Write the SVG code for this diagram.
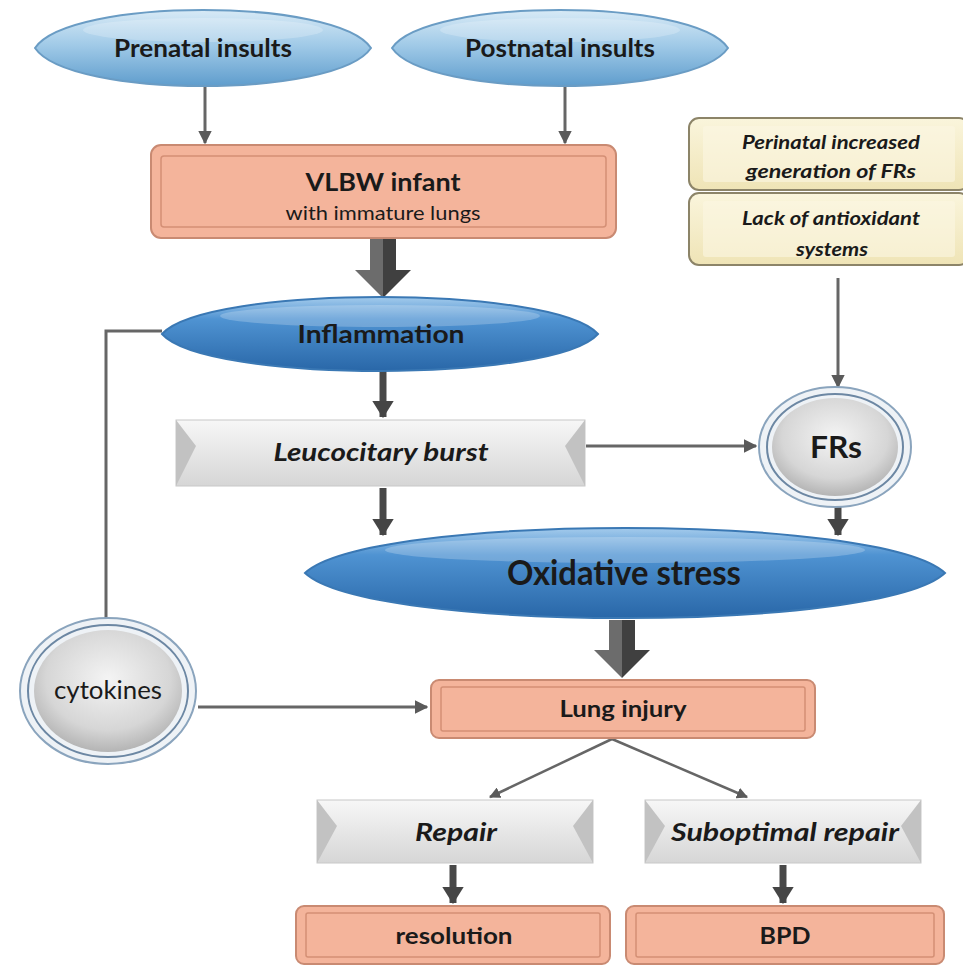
<svg xmlns="http://www.w3.org/2000/svg" width="963" height="965" viewBox="0 0 963 965">
<defs>
<linearGradient id="gLight" x1="0" y1="0" x2="0" y2="1">
<stop offset="0" stop-color="#d8eaf6"/><stop offset="0.45" stop-color="#a2cbe8"/><stop offset="1" stop-color="#5f9dcd"/>
</linearGradient>
<linearGradient id="gDark" x1="0" y1="0" x2="0" y2="1">
<stop offset="0" stop-color="#a4cbec"/><stop offset="0.3" stop-color="#4f93d2"/><stop offset="1" stop-color="#2967a8"/>
</linearGradient>
<linearGradient id="gGray" x1="0" y1="0" x2="0" y2="1">
<stop offset="0" stop-color="#f7f7f7"/><stop offset="1" stop-color="#d6d6d6"/>
</linearGradient>
<radialGradient id="gCirc" cx="0.5" cy="0.4" r="0.6">
<stop offset="0" stop-color="#f4f4f4"/><stop offset="0.7" stop-color="#d6d6d6"/><stop offset="1" stop-color="#b4b4b4"/>
</radialGradient>
<linearGradient id="gYel" x1="0" y1="0" x2="0" y2="1">
<stop offset="0" stop-color="#faf5dc"/><stop offset="1" stop-color="#efe4b6"/>
</linearGradient>
<linearGradient id="gArrow" x1="0" y1="0" x2="1" y2="0">
<stop offset="0" stop-color="#6c6c6c"/><stop offset="0.5" stop-color="#6c6c6c"/><stop offset="0.5" stop-color="#404040"/><stop offset="1" stop-color="#404040"/>
</linearGradient>
<marker id="ah" viewBox="0 0 10 10" refX="9" refY="5" markerWidth="4.5" markerHeight="4.5" orient="auto" markerUnits="strokeWidth">
<path d="M0,0 L10,5 L0,10 z" fill="#5a5a5a"/>
</marker>
<marker id="ahB" viewBox="0 0 8 10" refX="7.5" refY="5" markerWidth="2.5" markerHeight="3.1" orient="auto" markerUnits="strokeWidth">
<path d="M0,0 L8,5 L0,10 z" fill="#454545"/>
</marker>
</defs>
<style>
.t{font-family:Lato,"Open Sans","Liberation Sans",sans-serif;fill:#1a1a1a;text-anchor:middle}
.b{font-weight:bold}
.i{font-style:italic}
.ln{stroke:#666;stroke-width:3;fill:none}
.lnb{stroke:#484848;stroke-width:7;fill:none}
.thick{fill:url(#gArrow)}
.org{fill:#f4b49b;stroke:#c98a72;stroke-width:2}
.orgin{fill:none;stroke:#d48f75;stroke-width:1.5}
.bev{fill:url(#gGray);stroke:#c8c8c8;stroke-width:1}
.bevside{fill:#c2c2c2}
.yel{fill:url(#gYel);stroke:#8c8468;stroke-width:2}
.yelin{fill:#fbf7e2;opacity:0.6}
.hl{fill:#ffffff;opacity:0.22}
</style>

<rect width="963" height="965" fill="#ffffff"/>

<g id="connectors">
<line class="ln" x1="205" y1="86" x2="205" y2="143" marker-end="url(#ah)"/>
<line class="ln" x1="565" y1="86" x2="565" y2="143" marker-end="url(#ah)"/>
<path class="thick" d="M370,239 L396,239 L396,270 L411,270 L383,298 L355,270 L370,270 Z"/>
<polyline class="ln" points="162,331 106,331 106,620"/>
<line class="lnb" x1="383" y1="371" x2="383" y2="417" marker-end="url(#ahB)"/>
<line class="ln" x1="586" y1="446" x2="756" y2="446" marker-end="url(#ah)"/>
<line class="ln" x1="838" y1="278" x2="838" y2="387" marker-end="url(#ah)"/>
<line class="lnb" x1="383" y1="488" x2="383" y2="535" marker-end="url(#ahB)"/>
<line class="lnb" x1="838" y1="507" x2="838" y2="535" marker-end="url(#ahB)"/>
<path class="thick" d="M609,620 L635,620 L635,650 L650,650 L622,678 L594,650 L609,650 Z"/>
<line class="ln" x1="198" y1="707" x2="427" y2="707" marker-end="url(#ah)"/>
<line stroke="#666" stroke-width="2.5" x1="612" y1="739" x2="490" y2="797" marker-end="url(#ah)"/>
<line stroke="#666" stroke-width="2.5" x1="612" y1="739" x2="747" y2="797" marker-end="url(#ah)"/>
<line class="lnb" x1="453" y1="865" x2="453" y2="903" marker-end="url(#ahB)"/>
<line class="lnb" x1="783" y1="865" x2="783" y2="903" marker-end="url(#ahB)"/>
</g>

<g id="prenatal">
<path d="M35,48 C69,-2.7 337,-2.7 371,48 C337,98.7 69,98.7 35,48 Z" fill="url(#gLight)" stroke="#6a9cc4" stroke-width="2"/>
<ellipse class="hl" cx="203" cy="30" rx="120" ry="12"/>
<text class="t b" x="203" y="57" font-size="25" textLength="178" lengthAdjust="spacingAndGlyphs">Prenatal insults</text>
</g>
<g id="postnatal">
<path d="M392,48 C426,-2.7 694,-2.7 728,48 C694,98.7 426,98.7 392,48 Z" fill="url(#gLight)" stroke="#6a9cc4" stroke-width="2"/>
<ellipse class="hl" cx="560" cy="30" rx="120" ry="12"/>
<text class="t b" x="560" y="57" font-size="25" textLength="190" lengthAdjust="spacingAndGlyphs">Postnatal insults</text>
</g>

<g id="vlbw">
<rect class="org" x="151" y="145" width="465" height="93" rx="10"/>
<rect class="orgin" x="161" y="156" width="445" height="71" rx="3"/>
<text class="t b" x="383" y="191" font-size="25" textLength="155" lengthAdjust="spacingAndGlyphs">VLBW infant</text>
<text class="t" x="383" y="220" font-size="20" textLength="195" lengthAdjust="spacingAndGlyphs">with immature lungs</text>
</g>

<g id="perinatal">
<rect class="yel" x="689" y="118" width="280" height="72" rx="10"/>
<rect class="yelin" x="703" y="126" width="252" height="56" rx="3"/>
<text class="t b i" x="831" y="149" font-size="18" fill="#333" textLength="178" lengthAdjust="spacingAndGlyphs">Perinatal increased</text>
<text class="t b i" x="831" y="178" font-size="18" fill="#333" textLength="170" lengthAdjust="spacingAndGlyphs">generation of FRs</text>
</g>
<g id="antioxidant">
<rect class="yel" x="689" y="193" width="280" height="72" rx="10"/>
<rect class="yelin" x="703" y="201" width="252" height="56" rx="3"/>
<text class="t b i" x="831" y="225" font-size="18" fill="#333" textLength="178" lengthAdjust="spacingAndGlyphs">Lack of antioxidant</text>
<text class="t b i" x="832" y="256" font-size="18" fill="#333" textLength="72" lengthAdjust="spacingAndGlyphs">systems</text>
</g>

<g id="inflammation">
<path d="M162,334 C206,284.7 554,284.7 598,334 C554,383.3 206,383.3 162,334 Z" fill="url(#gDark)" stroke="#3a78b4" stroke-width="2"/>
<ellipse class="hl" cx="380" cy="316" rx="160" ry="11"/>
<text class="t b" x="381" y="343" font-size="25" textLength="167" lengthAdjust="spacingAndGlyphs">Inflammation</text>
</g>

<g id="leucocitary">
<rect class="bev" x="176" y="420" width="409" height="66"/>
<polygon class="bevside" points="176,420 196,446 176,486"/>
<polygon class="bevside" points="585,420 565,446 585,486"/>
<text class="t b i" x="381" y="461" font-size="24" textLength="215" lengthAdjust="spacingAndGlyphs">Leucocitary burst</text>
</g>

<g id="frs">
<ellipse cx="835" cy="447" rx="76" ry="60" fill="#eef2f6" stroke="#8aa4bd" stroke-width="2"/>
<ellipse cx="835" cy="447" rx="68" ry="53" fill="none" stroke="#6c87a3" stroke-width="2"/>
<ellipse cx="835" cy="447" rx="63" ry="49" fill="url(#gCirc)"/>
<text class="t b" x="836" y="458" font-size="30" textLength="52" lengthAdjust="spacingAndGlyphs">FRs</text>
</g>

<g id="oxidative">
<path d="M305,573 C369,513 881,513 945,573 C881,633 369,633 305,573 Z" fill="url(#gDark)" stroke="#3a78b4" stroke-width="2"/>
<ellipse class="hl" cx="625" cy="550" rx="240" ry="13"/>
<text class="t b" x="624" y="585" font-size="34" textLength="234" lengthAdjust="spacingAndGlyphs">Oxidative stress</text>
</g>

<g id="cytokines">
<ellipse cx="108" cy="691" rx="88" ry="73" fill="#eef2f6" stroke="#8aa4bd" stroke-width="2"/>
<ellipse cx="108" cy="691" rx="80" ry="66" fill="none" stroke="#6c87a3" stroke-width="2"/>
<ellipse cx="108" cy="691" rx="74" ry="61" fill="url(#gCirc)"/>
<text class="t" x="108" y="699" font-size="25" textLength="108" lengthAdjust="spacingAndGlyphs">cytokines</text>
</g>

<g id="lunginjury">
<rect class="org" x="431" y="680" width="384" height="58" rx="8"/>
<rect class="orgin" x="441" y="687" width="364" height="44" rx="2"/>
<text class="t b" x="623" y="717" font-size="22" textLength="127" lengthAdjust="spacingAndGlyphs">Lung injury</text>
</g>

<g id="repair">
<rect class="bev" x="317" y="800" width="276" height="63"/>
<polygon class="bevside" points="317,800 337,826 317,863"/>
<polygon class="bevside" points="593,800 573,826 593,863"/>
<text class="t b i" x="456" y="841" font-size="24" textLength="82" lengthAdjust="spacingAndGlyphs">Repair</text>
</g>
<g id="suboptimal">
<rect class="bev" x="645" y="800" width="276" height="63"/>
<polygon class="bevside" points="645,800 665,826 645,863"/>
<polygon class="bevside" points="921,800 901,826 921,863"/>
<text class="t b i" x="785" y="841" font-size="24" textLength="228" lengthAdjust="spacingAndGlyphs">Suboptimal repair</text>
</g>

<g id="resolution">
<rect class="org" x="296" y="906" width="314" height="58" rx="8"/>
<rect class="orgin" x="306" y="913" width="294" height="44" rx="2"/>
<text class="t b" x="454" y="944" font-size="23" textLength="117" lengthAdjust="spacingAndGlyphs">resolution</text>
</g>
<g id="bpd">
<rect class="org" x="626" y="906" width="318" height="58" rx="8"/>
<rect class="orgin" x="636" y="913" width="298" height="44" rx="2"/>
<text class="t b" x="785" y="944" font-size="23" textLength="51" lengthAdjust="spacingAndGlyphs">BPD</text>
</g>
</svg>
